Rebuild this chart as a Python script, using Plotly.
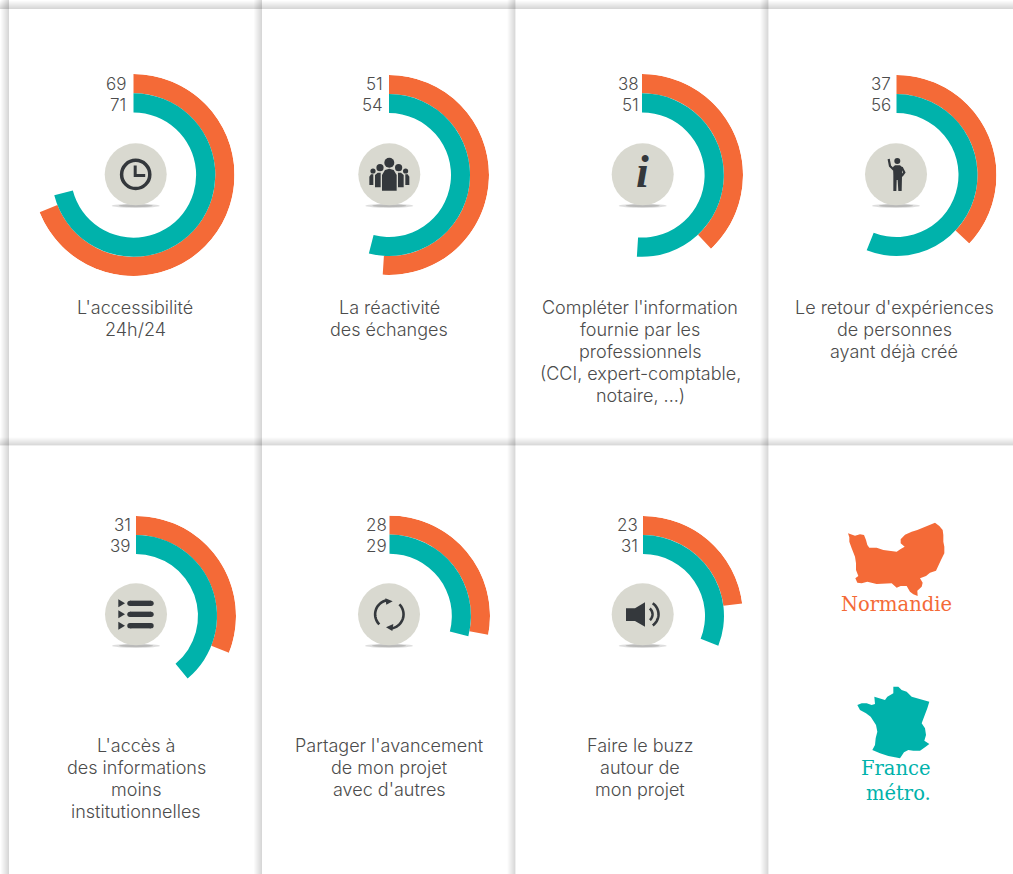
import math
import plotly.graph_objects as go

# ---- data ----
normandie = [69, 51, 38, 37, 31, 28, 23]
france = [71, 54, 51, 56, 39, 29, 31]
labels = [
    ["L'accessibilité", "24h/24"],
    ["La réactivité", "des échanges"],
    ["Compléter l'information", "fournie par les", "professionnels", "(CCI, expert-comptable,", "notaire, ...)"],
    ["Le retour d'expériences", "de personnes", "ayant déjà créé"],
    ["L'accès à", "des informations", "moins", "institutionnelles"],
    ["Partager l'avancement", "de mon projet", "avec d'autres"],
    ["Faire le buzz", "autour de", "mon projet"],
]
legend_names = ["Normandie", "France"]

# ---- layout constants ----
W, H = 1013, 874
ORANGE, TEAL = "#f46a37", "#00b2ab"
DISC, DARK = "#d9d9d0", "#34383c"
TXT = "#4c4c4c"
centers = [(133.5, 175), (389, 175), (642, 175), (896.5, 175), (136, 616), (389.5, 616), (643, 616)]
icon_c = [(135.7, 174.3), (389.3, 174.3), (642.7, 174.3), (896, 174.3), (136, 614.3), (389, 614.3), (642.7, 614.3)]
R = [101, 100, 101, 100, 100, 100.5, 100]
num_right = [128, 385, 641, 893, 133, 389, 640]
label_x = [135, 389, 640, 894, 136, 389, 640]
label_y = [307, 307, 307, 307, 745, 745, 745]
FONT_L = "Inter"
FONT_M = "DejaVu Serif"


def arc_pts(cx, cy, r, a0, a1, n=24):
    return [(cx + r * math.cos(math.radians(a0 + (a1 - a0) * i / n)),
             cy + r * math.sin(math.radians(a0 + (a1 - a0) * i / n))) for i in range(n + 1)]


def path(pts, close=True):
    return "M" + " L".join(f"{x:.2f},{y:.2f}" for x, y in pts) + (" Z" if close else "")


def zoomed(ox, oy, pts):
    return [(ox + x / 3, oy + y / 3) for x, y in pts]


fig = go.Figure()
shapes, annos = [], []

# panel shadows
for x in [9, 262, 515.5, 768.5]:
    for i in range(8):
        shapes.append(dict(type="rect", xref="x", yref="y", x0=x - 8 + i, x1=x, y0=0, y1=H,
                           fillcolor="rgba(0,0,0,0.02)", line_width=0, layer="below"))
for y in [9, 445.5]:
    for i in range(8):
        shapes.append(dict(type="rect", xref="x", yref="y", x0=0, x1=W, y0=y - 8 + i, y1=y,
                           fillcolor="rgba(0,0,0,0.02)", line_width=0, layer="below"))

# radial bars
for i, (n, f) in enumerate(zip(normandie, france)):
    cx, cy = centers[i]
    r = R[i]
    name = f"polar{i + 1 if i else ''}"
    fig.add_trace(go.Barpolar(theta=[n * 3.6 / 2], width=[n * 3.6], r=[100 - 81], base=[81],
                              marker=dict(color=ORANGE, line_width=0), subplot=name,
                              name=legend_names[0], hoverinfo="skip"))
    fig.add_trace(go.Barpolar(theta=[f * 3.6 / 2], width=[f * 3.6], r=[81 - 62], base=[62],
                              marker=dict(color=TEAL, line_width=0), subplot=name,
                              name=legend_names[1], hoverinfo="skip"))
    fig.layout[name] = dict(
        domain=dict(x=[(cx - r) / W, (cx + r) / W], y=[1 - (cy + r) / H, 1 - (cy - r) / H]),
        bgcolor="rgba(0,0,0,0)",
        radialaxis=dict(visible=False, range=[0, 100]),
        angularaxis=dict(visible=False, direction="clockwise", rotation=90),
    )
    annos.append(dict(x=num_right[i], y=cy - 91, text=str(n), xanchor="right", yanchor="middle", showarrow=False,
                      font=dict(family=FONT_L, size=17, color=TXT, weight=300)))
    annos.append(dict(x=num_right[i], y=cy - 70, text=str(f), xanchor="right", yanchor="middle", showarrow=False,
                      font=dict(family=FONT_L, size=17, color=TXT, weight=300)))
    for j, line in enumerate(labels[i]):
        annos.append(dict(x=label_x[i], y=label_y[i] + 22 * j, text=line, xanchor="center", yanchor="middle",
                          showarrow=False, font=dict(family=FONT_L, size=18, color=TXT, weight=300)))

# icon discs
for (cx, cy) in icon_c:
    shapes.append(dict(type="circle", xref="x", yref="y", x0=cx - 24, x1=cx + 24, y0=cy + 29.5, y1=cy + 33.5,
                       fillcolor="rgba(120,120,118,0.25)", line_width=0, layer="above"))
    shapes.append(dict(type="circle", xref="x", yref="y", x0=cx - 17, x1=cx + 17, y0=cy + 30, y1=cy + 33,
                       fillcolor="rgba(120,120,118,0.35)", line_width=0, layer="above"))
    shapes.append(dict(type="circle", xref="x", yref="y", x0=cx - 31, x1=cx + 31, y0=cy - 31, y1=cy + 31,
                       fillcolor=DISC, line_width=0, layer="above"))


def add_path(d, fill=DARK, lw=0, color=DARK):
    s = dict(type="path", xref="x", yref="y", path=d, layer="above", line=dict(width=lw, color=color))
    s["fillcolor"] = fill if fill else "rgba(0,0,0,0)"
    shapes.append(s)


def add_dot(cx, cy, r):
    shapes.append(dict(type="circle", xref="x", yref="y", x0=cx - r, x1=cx + r, y0=cy - r, y1=cy + r,
                       fillcolor=DARK, line_width=0, layer="above"))


# clock
shapes.append(dict(type="circle", xref="x", yref="y", x0=121.6, x1=149.8, y0=160.3, y1=188.5,
                   line=dict(color=DARK, width=3.5), fillcolor="rgba(0,0,0,0)", layer="above"))
add_path(path([(135.2, 165.5), (135.2, 175.5), (145.2, 175.5)], False), fill=None, lw=3)

# people
P = (340, 130)
add_dot(389.3, 162.7, 5)
add_path(path(zoomed(*P, [(126, 182), (126, 135), (135, 120), (148, 116), (161, 120), (170, 135), (170, 182)])))
add_dot(380, 167.7, 3.6)
add_dot(398.6, 167.7, 3.6)
add_path(path(zoomed(*P, [(105, 172), (105, 135), (113, 128), (122, 128), (122, 172)])))
add_path(path(zoomed(*P, [(191, 172), (191, 135), (183, 128), (174, 128), (174, 172)])))
add_dot(373, 171, 2.6)
add_dot(405.6, 171, 2.6)
add_path(path(zoomed(*P, [(88, 165), (88, 140), (93, 133), (100, 133), (100, 165)])))
add_path(path(zoomed(*P, [(208, 165), (208, 140), (203, 133), (196, 133), (196, 165)])))

# info
annos.append(dict(x=642, y=171, text="<b><i>i</i></b>", xanchor="center", yanchor="middle", showarrow=False,
                  font=dict(family="Liberation Serif", size=46, color=DARK)))

# person
add_dot(897.3, 161, 3)
add_path(path(zoomed(840, 130, [(159, 111), (165, 106), (180, 106), (187, 112), (186, 140), (185, 183), (175, 183),
                                (173, 150), (170, 150), (169, 183), (160, 183), (160, 135)])))
add_path(path(zoomed(840, 130, [(146, 87), (150, 108), (162, 120)]), False), fill=None, lw=2.2)
add_path(path(zoomed(840, 130, [(185, 112), (193, 127), (185, 138)]), False), fill=None, lw=2.2)

# list
for yy in (100, 133, 167):
    add_path(path(zoomed(90, 570, [(120, yy), (183, yy)]), False), fill=None, lw=5.4)
    for xx in (120, 183):
        add_dot(90 + xx / 3, 570 + yy / 3, 2.7)
    add_path(path(zoomed(90, 570, [(85, yy - 12), (105, yy), (85, yy + 12)])))

# refresh
rc = (340 + 148 / 3, 570 + 133 / 3)
add_path(path(arc_pts(*rc, 14.2, 135, 260), False), fill=None, lw=2.6)
add_path(path(arc_pts(*rc, 14.2, 315, 440), False), fill=None, lw=2.6)
add_path(path(zoomed(340, 570, [(136, 85), (158, 94), (139, 104)])))
add_path(path(zoomed(340, 570, [(160, 162), (138, 172), (157, 183)])))

# speaker
add_path(path(zoomed(340, 570, [(858, 115), (885, 115), (915, 97), (915, 170), (885, 153), (858, 153)])))
sc = (340 + 915 / 3, 570 + 133 / 3)
add_path(path(arc_pts(*sc, 7.5, -50, 50), False), fill=None, lw=2.6)
add_path(path(arc_pts(*sc, 13.5, -55, 55), False), fill=None, lw=2.6)

# legend maps
norm = [(204, 100), (225, 107), (240, 103), (252, 105), (258, 120), (262, 135), (268, 143), (290, 143), (310, 150),
        (330, 153), (350, 155), (362, 147), (374, 140), (362, 130), (362, 118), (375, 104), (395, 95), (412, 90),
        (425, 85), (440, 80), (452, 74), (465, 68), (478, 78), (488, 90), (490, 105), (490, 125), (493, 140),
        (493, 160), (483, 180), (475, 195), (468, 212), (450, 218), (438, 228), (420, 235), (428, 248), (425, 260),
        (412, 272), (413, 288), (400, 283), (390, 275), (380, 258), (362, 258), (350, 263), (335, 250), (310, 250),
        (290, 252), (262, 245), (245, 250), (232, 248), (226, 235), (235, 228), (228, 210), (228, 190), (225, 170),
        (215, 145), (208, 125), (208, 112)]
fran = [(340, 560), (355, 560), (365, 570), (380, 575), (395, 590), (420, 597), (448, 605), (442, 625), (436, 642),
        (425, 670), (435, 685), (438, 705), (433, 722), (448, 732), (435, 742), (420, 752), (400, 752), (385, 750),
        (372, 757), (360, 775), (345, 772), (325, 768), (300, 760), (277, 750), (285, 735), (287, 715), (292, 695),
        (288, 675), (272, 650), (258, 640), (240, 630), (232, 615), (245, 610), (260, 610), (275, 615), (285, 612),
        (283, 590), (300, 595), (315, 600), (322, 590), (340, 580)]
for pts, col, nm in ((norm, ORANGE, legend_names[0]), (fran, TEAL, legend_names[1])):
    zp = zoomed(780, 500, pts + pts[:1])
    fig.add_trace(go.Scatter(x=[p[0] for p in zp], y=[p[1] for p in zp], mode="lines", fill="toself",
                             fillcolor=col, line=dict(width=0, color=col), name=nm, hoverinfo="skip"))

annos.append(dict(x=896, y=604.5, text="Normandie", xanchor="center", yanchor="middle", showarrow=False,
                  font=dict(family=FONT_M, size=19.5, color=ORANGE)))
annos.append(dict(x=895.5, y=768, text="France", xanchor="center", yanchor="middle", showarrow=False,
                  font=dict(family=FONT_M, size=19.5, color=TEAL)))
annos.append(dict(x=898, y=793, text="métro.", xanchor="center", yanchor="middle", showarrow=False,
                  font=dict(family=FONT_M, size=19.5, color=TEAL)))

fig.update_layout(
    width=W, height=H, margin=dict(l=0, r=0, t=0, b=0), showlegend=False,
    paper_bgcolor="white", plot_bgcolor="rgba(0,0,0,0)",
    xaxis=dict(range=[0, W], visible=False, fixedrange=True),
    yaxis=dict(range=[H, 0], visible=False, fixedrange=True),
    shapes=shapes, annotations=annos,
)
fig.write_html("out.html", config={"displayModeBar": False},
               post_script="document.body.style.margin='0';document.documentElement.style.overflow='hidden';")
